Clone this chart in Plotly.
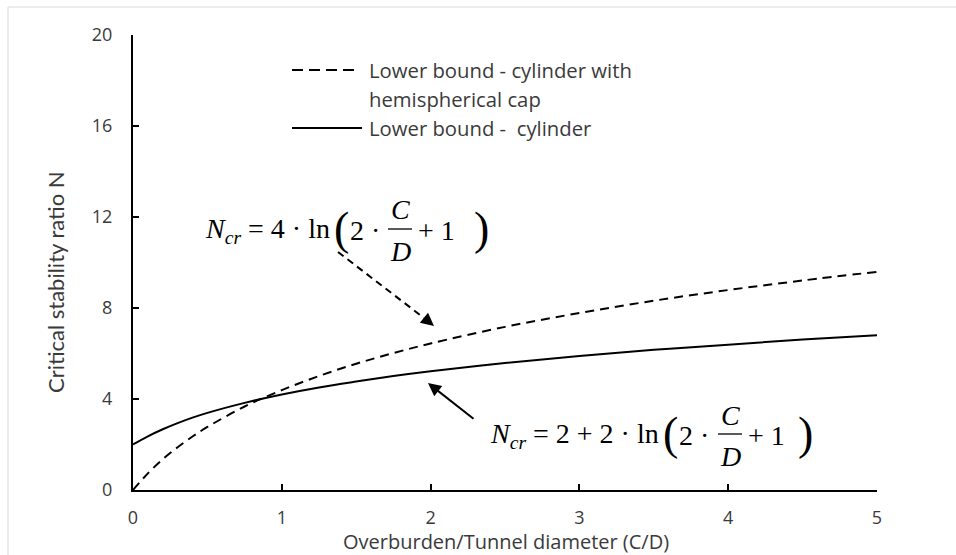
import plotly.graph_objects as go

# Overburden ratio C/D
cd_ratio = [0, 0.1, 0.2, 0.3, 0.4, 0.5, 0.75, 1.0, 1.25, 1.5, 1.75, 2.0, 2.5, 3.0, 3.5, 4.0, 4.5, 5.0]
# Lower bound - cylinder with hemispherical cap
n_cap = [0.0, 0.73, 1.35, 1.88, 2.35, 2.77, 3.67, 4.39, 5.01, 5.55, 6.02, 6.44, 7.17, 7.78, 8.32, 8.79, 9.21, 9.59]
# Lower bound - cylinder
n_cyl = [2.0, 2.36, 2.67, 2.94, 3.18, 3.39, 3.83, 4.20, 4.51, 4.77, 5.01, 5.22, 5.58, 5.89, 6.16, 6.39, 6.61, 6.80]

x_ticks = [0, 1, 2, 3, 4, 5]
y_ticks = [0, 4, 8, 12, 16, 20]

legend_cap = ["Lower bound - cylinder with", "hemispherical cap"]
legend_cyl = "Lower bound -\u00a0 cylinder"

W, H = 956, 555
ML, MR, MT, MB = 133, 79, 35, 65
PW, PH = W - ML - MR, H - MT - MB


def px(x):
    return (x - ML) / PW


def py(y):
    return (H - MB - y) / PH


SANS = "'Open Sans', Lato, sans-serif"
SANS_V = "Lato, 'Open Sans', sans-serif"
SERIF = "'Liberation Serif', 'DejaVu Serif', serif"
INK = "#000000"
GREY = "#3a3a3a"

fig = go.Figure()
fig.add_trace(go.Scatter(x=cd_ratio, y=n_cap, mode="lines", line=dict(color=INK, width=2, dash="9px,6px"),
                         line_shape="spline", showlegend=False, hoverinfo="skip"))
fig.add_trace(go.Scatter(x=cd_ratio, y=n_cyl, mode="lines", line=dict(color=INK, width=2),
                         line_shape="spline", showlegend=False, hoverinfo="skip"))

shapes = []
annotations = []

# outer frame
shapes.append(dict(type="rect", xref="paper", yref="paper", x0=px(8), x1=px(962), y0=py(562), y1=py(7),
                   line=dict(color="#d9d9d9", width=1), fillcolor="rgba(0,0,0,0)", layer="below"))

# legend keys
shapes.append(dict(type="line", xref="paper", yref="paper", x0=px(292), x1=px(357), y0=py(70), y1=py(70),
                   line=dict(color=INK, width=2, dash="11px,6px")))
shapes.append(dict(type="line", xref="paper", yref="paper", x0=px(292), x1=px(362), y0=py(128), y1=py(128),
                   line=dict(color=INK, width=2)))
for txt, yy in [(legend_cap[0], 70), (legend_cap[1], 99), (legend_cyl, 128)]:
    annotations.append(dict(text=txt, xref="paper", yref="paper", x=px(367), y=py(yy), xanchor="left",
                            yanchor="middle", showarrow=False, font=dict(family=SANS, size=20.3, color=GREY)))


def equation(prefix, xr, yc, lpar, frac_c, rpar):
    ef = dict(family=SERIF, size=28, color=INK)
    pf = dict(family=SERIF, size=46, color=INK)
    annotations.append(dict(text=prefix, xref="paper", yref="paper", x=px(xr), y=py(yc), xanchor="right",
                            yanchor="middle", showarrow=False, font=ef))
    annotations.append(dict(text="(", xref="paper", yref="paper", x=px(lpar), y=py(yc - 2), xanchor="center",
                            yanchor="middle", showarrow=False, font=pf))
    annotations.append(dict(text="2 ·", xref="paper", yref="paper", x=px(lpar + 7), y=py(yc), xanchor="left",
                            yanchor="middle", showarrow=False, font=ef))
    annotations.append(dict(text="<i>C</i>", xref="paper", yref="paper", x=px(frac_c), y=py(yc - 20),
                            xanchor="center", yanchor="middle", showarrow=False, font=ef))
    annotations.append(dict(text="<i>D</i>", xref="paper", yref="paper", x=px(frac_c), y=py(yc + 21),
                            xanchor="center", yanchor="middle", showarrow=False, font=ef))
    shapes.append(dict(type="line", xref="paper", yref="paper", x0=px(frac_c - 12), x1=px(frac_c + 12),
                       y0=py(yc - 1), y1=py(yc - 1), line=dict(color=INK, width=1.3)))
    annotations.append(dict(text="+ 1", xref="paper", yref="paper", x=px(frac_c + 16), y=py(yc), xanchor="left",
                            yanchor="middle", showarrow=False, font=ef))
    annotations.append(dict(text=")", xref="paper", yref="paper", x=px(rpar), y=py(yc - 2), xanchor="center",
                            yanchor="middle", showarrow=False, font=pf))


equation("<i>N<sub>cr</sub></i> = 4 · ln", 332, 230, 341, 400, 481)
equation("<i>N<sub>cr</sub></i> = 2 + 2 · ln", 661, 435, 670, 730, 805)

# dashed pointer to the capped-cylinder curve
shapes.append(dict(type="line", xref="paper", yref="paper", x0=px(338), y0=py(252), x1=px(424), y1=py(318),
                   line=dict(color=INK, width=2, dash="7px,5px")))
annotations.append(dict(text="", xref="paper", yref="paper", x=px(434), y=py(326), ax=-11, ay=-9,
                        showarrow=True, arrowhead=2, arrowsize=1.3, arrowwidth=2, arrowcolor=INK))
# solid pointer to the cylinder curve
annotations.append(dict(text="", xref="paper", yref="paper", x=px(428), y=py(383), ax=47, ay=37,
                        showarrow=True, arrowhead=2, arrowsize=1.3, arrowwidth=2, arrowcolor=INK))

# axis titles
annotations.append(dict(text="Critical stability ratio N", xref="paper", yref="paper", x=px(55), y=py(282),
                        xanchor="center", yanchor="middle", textangle=-90, showarrow=False,
                        font=dict(family=SANS_V, size=22, color=GREY)))
annotations.append(dict(text="Overburden/Tunnel diameter (C/D)", xref="paper", yref="paper", x=px(506),
                        y=py(541.5), xanchor="center", yanchor="middle", showarrow=False,
                        font=dict(family=SANS, size=20, color=GREY)))

axis_common = dict(showgrid=False, zeroline=False, showline=True, linecolor=INK, linewidth=2,
                   ticks="inside", ticklen=6, tickwidth=2, tickcolor=INK,
                   tickfont=dict(family=SANS, size=18, color=GREY))

fig.update_layout(
    width=W, height=H,
    margin=dict(l=ML, r=MR, t=MT, b=MB, pad=0),
    paper_bgcolor="white", plot_bgcolor="white",
    xaxis=dict(range=[0, 5], tickvals=x_ticks, **axis_common),
    yaxis=dict(range=[0, 20], tickvals=y_ticks, **axis_common),
    shapes=shapes, annotations=annotations,
)
fig.update_xaxes(ticklabelstandoff=10)
fig.update_yaxes(ticklabelstandoff=15)

fig.write_html("out.html", config={"displayModeBar": False})
